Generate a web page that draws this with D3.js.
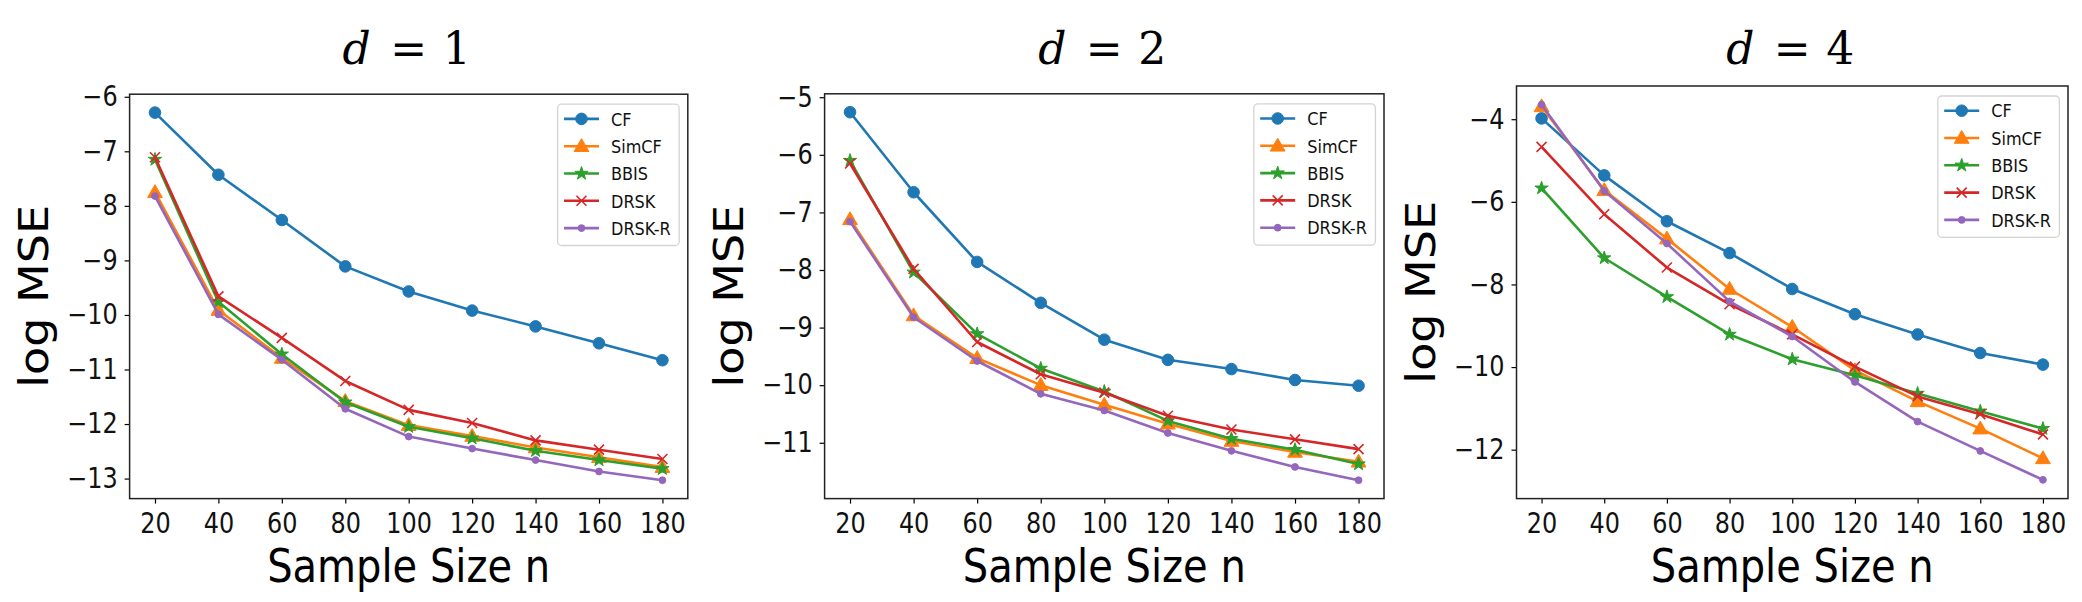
<!DOCTYPE html>
<html>
<head>
<meta charset="utf-8">
<script src="https://cdn.jsdelivr.net/npm/d3@7"></script>
<style>
  body { margin: 0; background: #fff; }
  svg { display: block; }
</style>
</head>
<body>
<div id="chart"></div>
<script>
// sample sizes on the x axis
const sampleSizes = [20, 40, 60, 80, 100, 120, 140, 160, 180];
const methods = ["CF", "SimCF", "BBIS", "DRSK", "DRSK-R"];
const panelTitles = ["1", "2", "4"];

// d = 1
const d1_CF    = [-6.29, -7.43, -8.26, -9.11, -9.57, -9.92, -10.21, -10.52, -10.83];
const d1_SimCF = [-7.75, -9.91, -10.79, -11.58, -12.02, -12.22, -12.43, -12.61, -12.79];
const d1_BBIS  = [-7.15, -9.76, -10.72, -11.60, -12.05, -12.26, -12.49, -12.66, -12.82];
const d1_DRSK  = [-7.11, -9.66, -10.42, -11.21, -11.74, -11.98, -12.30, -12.47, -12.64];
const d1_DRSKR = [-7.82, -9.99, -10.82, -11.72, -12.23, -12.45, -12.66, -12.87, -13.03];

// d = 2
const d2_CF    = [-5.26, -6.65, -7.86, -8.57, -9.21, -9.56, -9.72, -9.91, -10.01];
const d2_SimCF = [-7.12, -8.79, -9.53, -10.00, -10.34, -10.67, -10.97, -11.16, -11.33];
const d2_BBIS  = [-6.10, -8.04, -9.11, -9.71, -10.11, -10.62, -10.93, -11.12, -11.37];
const d2_DRSK  = [-6.15, -7.98, -9.25, -9.81, -10.13, -10.53, -10.77, -10.94, -11.11];
const d2_DRSKR = [-7.16, -8.82, -9.58, -10.15, -10.44, -10.83, -11.14, -11.42, -11.65];

// d = 4
const d4_CF    = [-3.98, -5.36, -6.47, -7.24, -8.11, -8.72, -9.21, -9.66, -9.94];
const d4_SimCF = [-3.69, -5.72, -6.89, -8.11, -9.03, -10.08, -10.83, -11.49, -12.21];
const d4_BBIS  = [-5.67, -7.36, -8.30, -9.21, -9.81, -10.20, -10.64, -11.07, -11.49];
const d4_DRSK  = [-4.67, -6.30, -7.59, -8.48, -9.21, -9.99, -10.71, -11.14, -11.63];
const d4_DRSKR = [-3.65, -5.74, -7.01, -8.41, -9.26, -10.36, -11.32, -12.03, -12.73];

// y tick values per panel
const d1_yTicks = [-13, -12, -11, -10, -9, -8, -7, -6];
const d2_yTicks = [-11, -10, -9, -8, -7, -6, -5];
const d4_yTicks = [-12, -10, -8, -6, -4];

const panelSeries = [
  [d1_CF, d1_SimCF, d1_BBIS, d1_DRSK, d1_DRSKR],
  [d2_CF, d2_SimCF, d2_BBIS, d2_DRSK, d2_DRSKR],
  [d4_CF, d4_SimCF, d4_BBIS, d4_DRSK, d4_DRSKR]
];
const panelTicks = [d1_yTicks, d2_yTicks, d4_yTicks];

// layout (screen pixels)
const W = 2082, H = 602;
const boxes = [
  {left: 129.6, right: 687.8, top: 94.2, bottom: 498.6},
  {left: 824.6, right: 1384.0, top: 93.8, bottom: 498.6},
  {left: 1516.5, right: 2068.0, top: 86.0, bottom: 498.6}
];
const colors = ["#1f77b4", "#ff7f0e", "#2ca02c", "#d62728", "#9467bd"];
const SX = 0.87;   // the picture is a bit squeezed sideways
const FONT = "DejaVu Sans";
const fmt = d3.format("d");

const svg = d3.select("#chart").append("svg")
  .attr("width", W).attr("height", H);

// marker drawing, one function per method
const markers = [
  g => g.append("circle").attr("r", 5.8),
  g => g.append("path").attr("d", d3.symbol(d3.symbolTriangle, 95)()).attr("transform", "translate(0,1)"),
  g => g.append("path").attr("d", d3.symbol(d3.symbolStar, 55)()),
  g => g.append("path").attr("d", "M-5,-5L5,5M-5,5L5,-5").attr("fill", "none").attr("stroke-width", 1.6),
  g => g.append("circle").attr("r", 3.4)
];

const squeeze = (sel, x, y, rot) =>
  sel.attr("transform", `translate(${x},${y}) scale(${SX},1)` + (rot ? ` rotate(${rot})` : ""));

boxes.forEach((b, p) => {
  const series = panelSeries[p];
  const all = series.flat();
  let lo = d3.min(all), hi = d3.max(all);
  const pad = (hi - lo) * 0.05;

  const x = d3.scaleLinear().domain([12, 188]).range([b.left, b.right]);
  const y = d3.scaleLinear().domain([lo - pad, hi + pad]).range([b.bottom, b.top]);

  const g = svg.append("g");

  // x axis
  const gx = g.append("g")
    .attr("transform", `translate(0,${b.bottom})`)
    .call(d3.axisBottom(x).tickValues(sampleSizes).tickFormat(fmt).tickSize(5).tickPadding(10));
  // y axis
  const gy = g.append("g")
    .attr("transform", `translate(${b.left},0)`)
    .call(d3.axisLeft(y).tickValues(panelTicks[p]).tickFormat(fmt).tickSize(5).tickPadding(7));

  [gx, gy].forEach(a => {
    a.select(".domain").remove();
    a.attr("font-family", FONT).attr("font-size", 27.5);
    a.selectAll(".tick line").attr("stroke", "#000").attr("stroke-width", 1.2);
    a.selectAll(".tick text").attr("fill", "#111");
  });
  gx.selectAll(".tick text").attr("transform", `scale(${SX},1)`);
  gy.selectAll(".tick text").attr("x", -12 / SX).attr("transform", `scale(${SX},1)`);

  // lines and markers
  series.forEach((vals, k) => {
    const pts = vals.map((v, i) => [sampleSizes[i], v]);
    g.append("path")
      .datum(pts)
      .attr("fill", "none")
      .attr("stroke", colors[k])
      .attr("stroke-width", 2.6)
      .attr("stroke-linejoin", "round")
      .attr("d", d3.line().x(d => x(d[0])).y(d => y(d[1])));
    pts.forEach(d => {
      const m = g.append("g")
        .attr("transform", `translate(${x(d[0])},${y(d[1])})`)
        .attr("fill", colors[k]).attr("stroke", colors[k]);
      markers[k](m);
    });
  });

  // frame
  g.append("rect")
    .attr("x", b.left).attr("y", b.top)
    .attr("width", b.right - b.left).attr("height", b.bottom - b.top)
    .attr("fill", "none").attr("stroke", "#222").attr("stroke-width", 1.5);

  // legend
  const lw = 121.6, lh = 141.3;
  const lx = b.right - 8.6 - lw, ly = b.top + 10;
  const lg = g.append("g");
  lg.append("rect")
    .attr("x", lx).attr("y", ly).attr("width", lw).attr("height", lh)
    .attr("rx", 4).attr("fill", "#fff").attr("fill-opacity", 0.85)
    .attr("stroke", "#d4d4d4").attr("stroke-width", 1.3);
  methods.forEach((name, k) => {
    const ry = ly + 14.7 + k * 27.3;
    lg.append("line")
      .attr("x1", lx + 6.4).attr("x2", lx + 41.4)
      .attr("y1", ry).attr("y2", ry)
      .attr("stroke", colors[k]).attr("stroke-width", 2.6);
    const m = lg.append("g")
      .attr("transform", `translate(${lx + 23.9},${ry})`)
      .attr("fill", colors[k]).attr("stroke", colors[k]);
    markers[k](m);
    lg.append("text")
      .call(squeeze, lx + 53.4, ry + 6.7)
      .attr("font-family", FONT).attr("font-size", 18.5).attr("fill", "#111")
      .text(name);
  });

  // axis labels
  const cx = (b.left + b.right) / 2;
  const cy = (b.top + b.bottom) / 2;
  g.append("text")
    .call(squeeze, cx, 581.7)
    .attr("text-anchor", "middle")
    .attr("font-family", FONT).attr("font-size", 46).attr("fill", "#000")
    .text("Sample Size n");
  g.append("text")
    .call(squeeze, b.left - 82, cy, -90)
    .attr("text-anchor", "middle")
    .attr("font-family", FONT).attr("font-size", 46).attr("fill", "#000")
    .text("log MSE");

  // title  d = k
  const tf = "DejaVu Serif";
  g.append("text")
    .attr("x", cx - 52).attr("y", 63.5).attr("text-anchor", "middle")
    .attr("font-family", tf).attr("font-style", "italic").attr("font-size", 44)
    .text("d");
  g.append("text")
    .attr("x", cx).attr("y", 63.5).attr("text-anchor", "middle")
    .attr("font-family", tf).attr("font-size", 44)
    .text("=");
  g.append("text")
    .attr("x", cx + 48).attr("y", 63.5).attr("text-anchor", "middle")
    .attr("font-family", tf).attr("font-size", 44)
    .text(panelTitles[p]);
});
</script>
</body>
</html>
